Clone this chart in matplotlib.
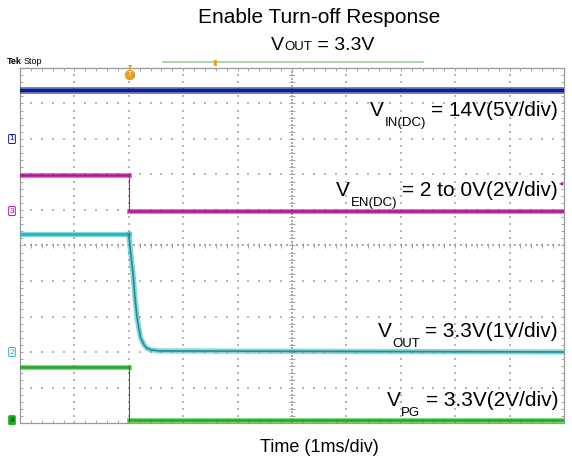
import numpy as np
import matplotlib.pyplot as plt

plt.rcParams['font.family'] = ['Liberation Sans', 'DejaVu Sans']

# scope screen: 10 x 10 divisions, time 1 ms/div, levels in divisions from bottom
edge_t = 2.0
vin_level = 9.38
ven_high, ven_low = 6.99, 5.97
vpg_high, vpg_low = 1.58, 0.08
vout_t = [0.0, 2.0, 2.04, 2.08, 2.11, 2.15, 2.19, 2.22, 2.28, 2.33, 2.41, 2.55, 10.0]
vout_v = [5.32, 5.32, 4.73, 4.17, 3.58, 2.99, 2.62, 2.39, 2.20, 2.11, 2.06, 2.03, 2.00]

ch_names = ['1', '3', '2', '4']
ch_levels = [8.0, 5.97, 2.0, 0.08]
ch_colors = ['#0b1e94', '#b4129f', '#27b3bd', '#1fae1f']

labels_main = ['= 14V(5V/div)', '= 2 to 0V(2V/div)', '= 3.3V(1V/div)', '= 3.3V(2V/div)']
labels_sub = ['IN(DC)', 'EN(DC)', 'OUT', 'PG']
labels_y = [116, 196, 337, 406]

W, H = 572, 476
fig = plt.figure(figsize=(W / 100, H / 100), dpi=100)
ax = fig.add_axes([20 / W, 53 / H, 544 / W, 355 / H])
ax.set_xlim(0, 10)
ax.set_ylim(0, 10)
ax.set_xticks([])
ax.set_yticks([])
for sp in ax.spines.values():
    sp.set_color('#9a9a9a')
    sp.set_linewidth(0.9)

# graticule
gc = '#b5b5b5'
minor = np.arange(0, 10.001, 0.2)
for k in range(1, 10):
    ax.scatter(minor, np.full_like(minor, k), s=1.2, marker='s', lw=0, color=gc, zorder=1)
    ax.scatter(np.full_like(minor, k), minor, s=1.2, marker='s', lw=0, color=gc, zorder=1)
fine = np.arange(0, 10.001, 0.1)
ax.scatter(fine, np.full_like(fine, 5), s=1.0, marker='s', lw=0, color='#aaaaaa', zorder=1)
ax.scatter(np.full_like(fine, 5), fine, s=1.0, marker='s', lw=0, color='#aaaaaa', zorder=1)
ax.vlines(minor, 5 - 0.07, 5 + 0.07, color='#a5a5a5', lw=0.7, zorder=1)
ax.hlines(minor, 5 - 0.05, 5 + 0.05, color='#a5a5a5', lw=0.7, zorder=1)
ax.vlines(minor, 0, 0.09, color='#a5a5a5', lw=0.7, zorder=1)
ax.vlines(minor, 9.91, 10, color='#a5a5a5', lw=0.7, zorder=1)
ax.hlines(minor, 0, 0.06, color='#a5a5a5', lw=0.7, zorder=1)
ax.hlines(minor, 9.94, 10, color='#a5a5a5', lw=0.7, zorder=1)

# traces
def band(x, y, c, w):
    ax.plot(x, y, color=c, lw=w, alpha=0.55, solid_joinstyle='miter', zorder=3)
    ax.plot(x, y, color=c, lw=w * 0.5, zorder=4)

band([0, 10], [vin_level, vin_level], ch_colors[0], 5.0)
band([0, edge_t], [ven_high, ven_high], ch_colors[1], 3.6)
band([edge_t, 10], [ven_low, ven_low], ch_colors[1], 3.6)
ax.plot([edge_t, edge_t], [ven_high, ven_low], color=ch_colors[1], lw=0.8, zorder=4)
band(vout_t[:2], vout_v[:2], ch_colors[2], 3.8)
ax.plot(vout_t[1:], vout_v[1:], color=ch_colors[2], lw=3.8, alpha=0.55, zorder=3)
ax.plot(vout_t[1:], vout_v[1:], color='#1d8f99', lw=1.2, zorder=4)
band([0, edge_t], [vpg_high, vpg_high], ch_colors[3], 3.6)
band([edge_t, 10], [vpg_low, vpg_low], ch_colors[3], 3.6)
ax.plot([edge_t, edge_t], [vpg_high, vpg_low], color='#148014', lw=0.8, zorder=4)

# channel ground markers
for name, lv, c in zip(ch_names, ch_levels, ch_colors):
    filled = name == '4'
    fig.text(12 / W, (53 + lv * 35.5) / H, name, ha='center', va='center', fontsize=6,
             color='#222222' if filled else c,
             bbox=dict(boxstyle='round,pad=0.12', fc=c if filled else 'white', ec=c, lw=0.7))

# trigger markers
fig.text(130 / W, 1 - 75 / H, 'T', ha='center', va='center', fontsize=5, color='white',
         bbox=dict(boxstyle='circle,pad=0.15', fc='#e8a020', ec='#e8a020'))
fig.text(130 / W, 1 - 67 / H, '▾', ha='center', va='center', fontsize=6, color='#e8a020')
fig.add_artist(plt.Line2D([163 / W, 423 / W], [1 - 62 / H, 1 - 62 / H], color='#9ccf9c', lw=1.2))
fig.text(215 / W, 1 - 63 / H, '▮', ha='center', va='center', fontsize=6, color='#e8a020')
fig.text(561 / W, 1 - 184 / H, '◂', ha='center', va='center', fontsize=6, color=ch_colors[1])

fig.text(7 / W, 1 - 62 / H, 'Tek', ha='left', va='center', fontsize=6.5, fontweight='bold')
fig.text(24 / W, 1 - 62 / H, 'Stop', ha='left', va='center', fontsize=6.5)

# titles
fig.text(319 / W, 1 - 23 / H, 'Enable Turn-off Response', ha='center', va='baseline', fontsize=15)
r = fig.canvas.get_renderer()
t1 = fig.text(271 / W, 1 - 50 / H, 'V', ha='left', va='baseline', fontsize=14)
b1 = t1.get_window_extent(r)
t2 = fig.text((b1.x1 + 0.5) / W, 1 - 50 / H, 'OUT', ha='left', va='baseline', fontsize=9.5)
b2 = t2.get_window_extent(r)
fig.text((b2.x1) / W, 1 - 50 / H, ' = 3.3V', ha='left', va='baseline', fontsize=14)

fig.text(319 / W, 1 - 452 / H, 'Time (1ms/div)', ha='center', va='baseline', fontsize=13)

# channel labels
for main, sub, yb in zip(labels_main, labels_sub, labels_y):
    tm = fig.text(558 / W, 1 - yb / H, main, ha='right', va='baseline', fontsize=15)
    bm = tm.get_window_extent(r)
    ts = fig.text((bm.x0 - 5) / W, 1 - (yb + 10) / H, sub, ha='right', va='baseline', fontsize=9.5)
    bs = ts.get_window_extent(r)
    fig.text((bs.x0 - 1) / W, 1 - yb / H, 'V', ha='right', va='baseline', fontsize=15)

fig.savefig('out.png', dpi=100)
